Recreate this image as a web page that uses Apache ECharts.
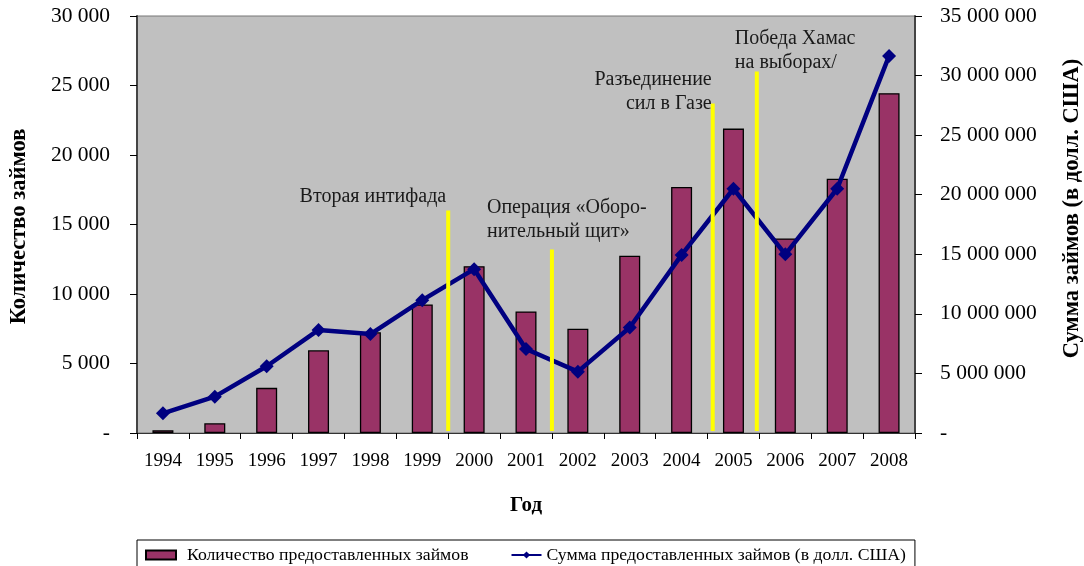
<!DOCTYPE html>
<html>
<head>
<meta charset="utf-8">
<script src="https://cdn.jsdelivr.net/npm/echarts@6/dist/echarts.min.js"></script>
<style>
html,body{margin:0;padding:0;background:#fff;}
#c{width:1084px;height:566px;}
</style>
</head>
<body>
<div id="c"></div>
<script>
// ---- data ----
var years = ['1994','1995','1996','1997','1998','1999','2000','2001','2002','2003','2004','2005','2006','2007','2008'];
var loanCount = [200, 700, 3250, 5950, 7250, 9250, 12000, 8750, 7500, 12750, 17700, 21900, 14000, 18300, 24450];
var loanSum = [1650000, 3050000, 5600000, 8650000, 8300000, 11150000, 13750000, 7050000, 5150000, 8850000, 14950000, 20500000, 15000000, 20500000, 31650000];
var leftTicks = [0, 5000, 10000, 15000, 20000, 25000, 30000];
var rightTicks = [0, 5000000, 10000000, 15000000, 20000000, 25000000, 30000000, 35000000];
var eventNames = ['Вторая интифада', 'Операция «Оборо-\nнительный щит»', 'Разъединение\nсил в Газе', 'Победа Хамас\nна выборах/'];
var eventPos = [6, 8, 11.1, 11.95];          // position along the year axis (category units from left edge)
var eventTop = [16000, 13200, 23700, 26000]; // top of the marker line, in left-axis units
var eventBottom = [150, 150, 150, 150];
var seriesNames = ['Количество предоставленных займов', 'Сумма предоставленных займов (в долл. США)'];

// ---- styles ----
var eventLabelStyle = [
  {align:'right', dx:-2, dy:-14},
  {align:'left', dx:-65, dy:-30},
  {align:'right', dx:-1, dy:-12},
  {align:'left', dx:-22, dy:-21}
];
var FONT = '"Liberation Serif", "Times New Roman", serif';
function fmt(v){
  if (v === 0) return '-';
  return String(v).replace(/\B(?=(\d{3})+(?!\d))/g, ' ');
}

var eventData = eventPos.map(function(p,i){ return [p, eventTop[i], eventBottom[i], i]; });

var chart = echarts.init(document.getElementById('c'), null, {renderer:'canvas'});
chart.setOption({
  animation:false,
  backgroundColor:'#ffffff',
  textStyle:{fontFamily:FONT},
  grid:{left:137, right:169, top:16, bottom:133, show:true, backgroundColor:'#c0c0c0', borderColor:'#777', borderWidth:1,
        containLabel:false, outerBoundsMode:'none'},
  legend:{
    left:137, top:540,
    padding:[6,9,9,8],
    borderColor:'#000', borderWidth:1,
    itemWidth:30, itemHeight:9, itemGap:42,
    textStyle:{fontFamily:FONT, fontSize:17.7, color:'#000'},
    data:[
      {name:seriesNames[0], icon:'rect', textStyle:{padding:[0,0,0,6]}},
      {name:seriesNames[1]}
    ]
  },
  xAxis:[{
    type:'category', data:years, boundaryGap:true,
    name:'Год', nameLocation:'middle', nameGap:62,
    nameTextStyle:{fontFamily:FONT, fontSize:21, fontWeight:'bold', color:'#000'},
    axisLine:{lineStyle:{color:'#333', width:1}},
    axisTick:{show:true, length:6, inside:false, alignWithLabel:false, lineStyle:{color:'#000'}},
    axisLabel:{fontFamily:FONT, fontSize:19, color:'#000', margin:19, interval:0}
  },{
    type:'value', min:0, max:15, show:false
  }],
  yAxis:[{
    type:'value', min:0, max:30000, interval:5000, position:'left',
    name:'Количество займов', nameLocation:'middle', nameGap:106, nameRotate:90,
    nameTextStyle:{fontFamily:FONT, fontSize:22.5, fontWeight:'bold', color:'#000', padding:[0,4,0,0]},
    axisLine:{show:true, lineStyle:{color:'#444', width:2}},
    axisTick:{show:true, length:7, lineStyle:{color:'#000'}},
    splitLine:{show:false},
    axisLabel:{fontFamily:FONT, fontSize:21.5, color:'#000', margin:27, formatter:fmt,
      customValues:leftTicks}
  },{
    type:'value', min:0, max:35000000, interval:5000000, position:'right',
    name:'Сумма займов (в долл. США)', nameLocation:'middle', nameGap:146, nameRotate:90,
    nameTextStyle:{fontFamily:FONT, fontSize:22.5, fontWeight:'bold', color:'#000', padding:[0,0,0,32]},
    axisLine:{show:true, lineStyle:{color:'#444', width:2}},
    axisTick:{show:true, length:7, lineStyle:{color:'#000'}},
    splitLine:{show:false},
    axisLabel:{fontFamily:FONT, fontSize:21.5, color:'#000', margin:25, formatter:fmt,
      customValues:rightTicks}
  }],
  series:[{
    name:seriesNames[0], type:'bar', data:loanCount, barWidth:21,
    xAxisIndex:0, yAxisIndex:0,
    itemStyle:{color:'#993366', borderColor:'#000', borderWidth:1.3}
  },{
    name:seriesNames[1], type:'line', data:loanSum,
    xAxisIndex:0, yAxisIndex:1,
    symbol:'diamond', symbolSize:14,
    lineStyle:{color:'#000080', width:4.5},
    itemStyle:{color:'#000080'},
    z:5
  },{
    type:'custom', xAxisIndex:1, yAxisIndex:0, z:10, silent:true,
    data:eventData,
    renderItem:function(params, api){
      var i = api.value(3);
      var top = api.coord([api.value(0), api.value(1)]);
      var bot = api.coord([api.value(0), api.value(2)]);
      var st = eventLabelStyle[i];
      return {type:'group', children:[
        {type:'line', shape:{x1:top[0], y1:top[1], x2:bot[0], y2:bot[1]},
         style:{stroke:'#ffff00', lineWidth:4}},
        {type:'text', x:top[0]+st.dx, y:top[1]+st.dy,
         style:{text:eventNames[i], fill:'#1a1a1a', font:'20px ' + FONT, align:st.align, verticalAlign:'middle', lineHeight:24}}
      ]};
    }
  }]
});
</script>
</body>
</html>
